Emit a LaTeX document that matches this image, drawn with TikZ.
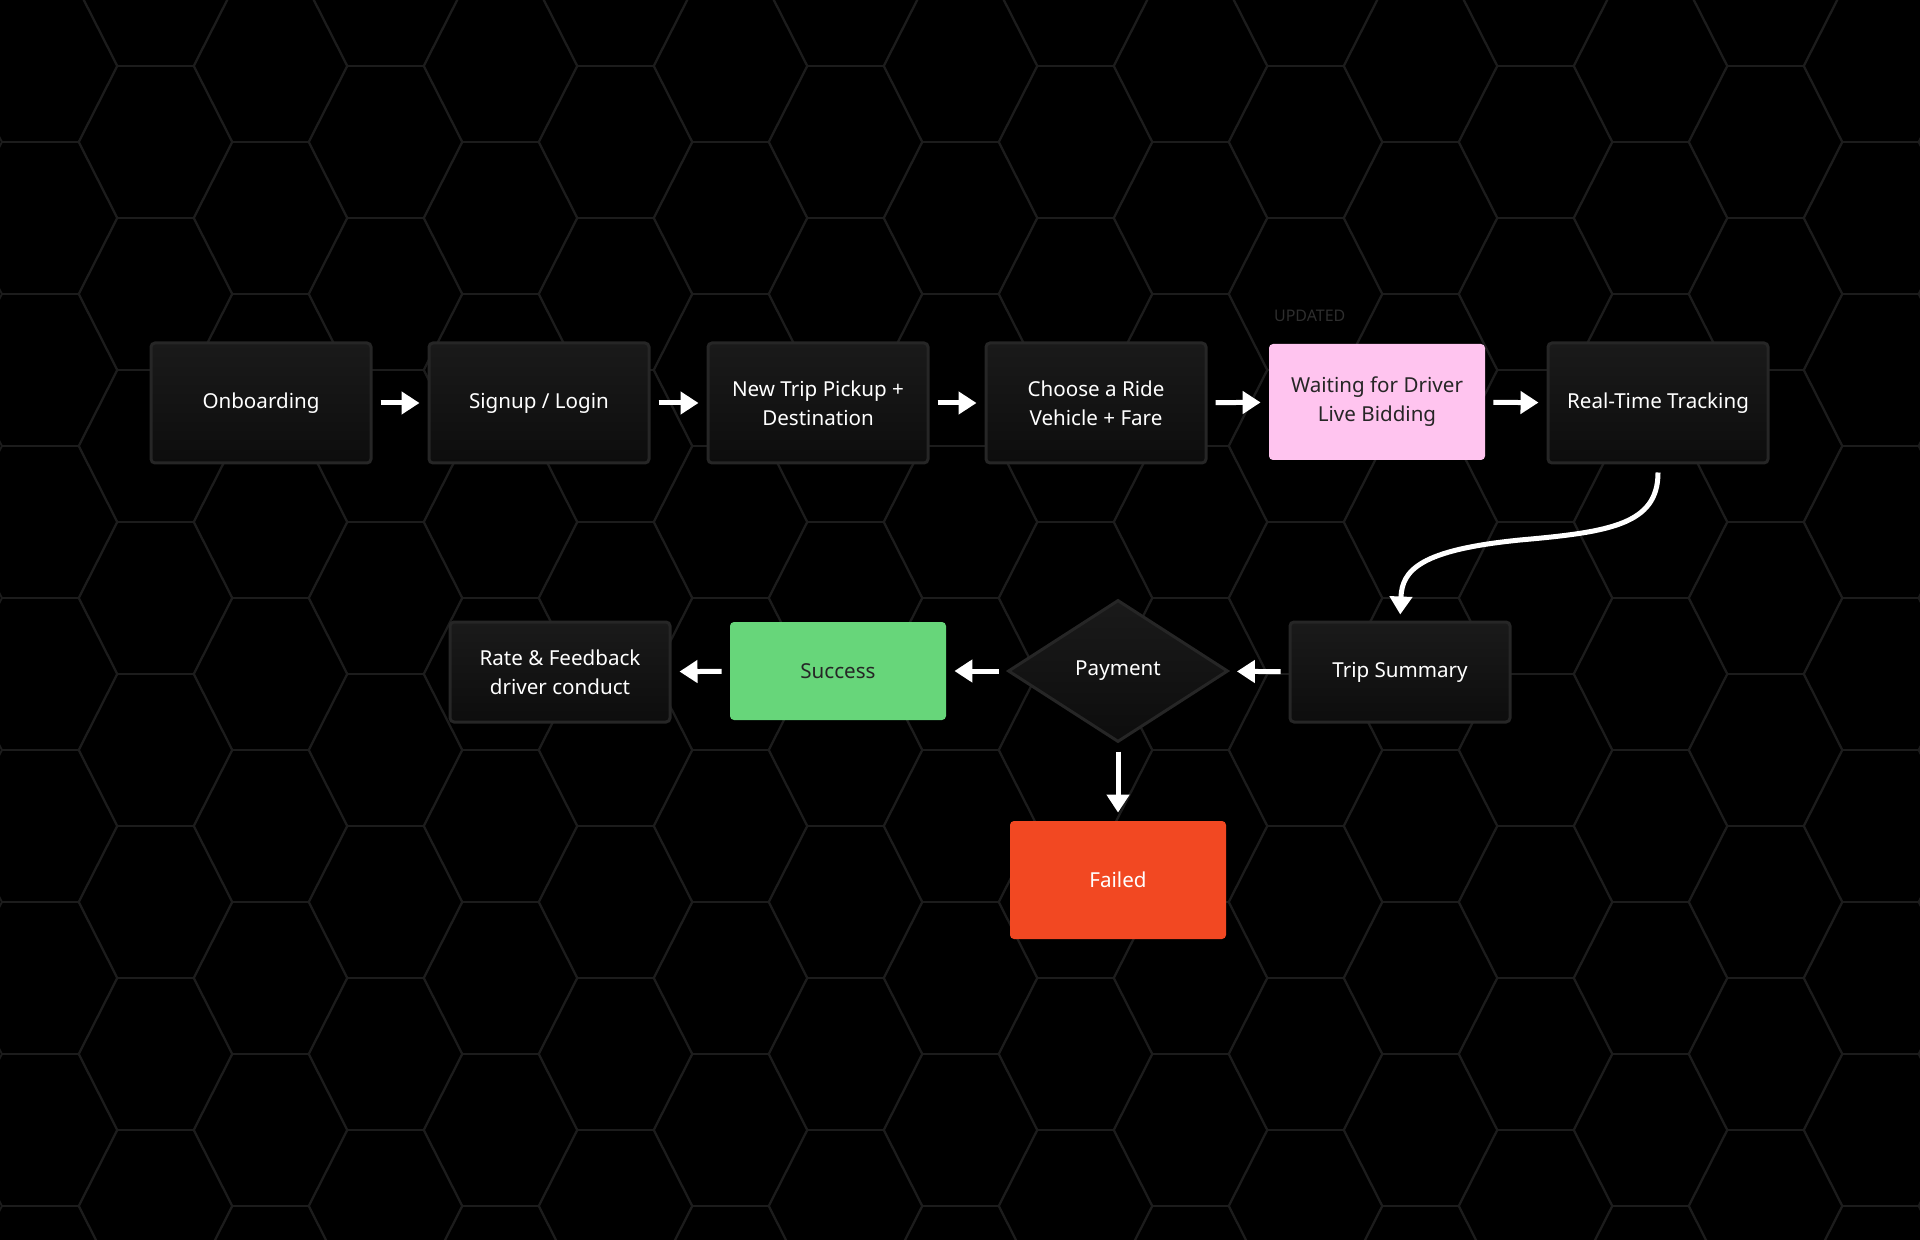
\documentclass[tikz,border=0pt]{standalone}
\usepackage{fontspec}
\setmainfont{Noto Sans}
\usetikzlibrary{shapes.geometric,arrows.meta}
\definecolor{bgc}{HTML}{000000}
\definecolor{hexc}{HTML}{1C1C1C}
\definecolor{boxtop}{HTML}{1A1A1A}
\definecolor{boxbot}{HTML}{0D0D0D}
\definecolor{boxline}{HTML}{262626}
\definecolor{pinkc}{HTML}{FFC4EF}
\definecolor{greenc}{HTML}{67D67A}
\definecolor{redc}{HTML}{F24822}
\definecolor{updc}{HTML}{2E2E2E}
\begin{document}
\begin{tikzpicture}[x=0.5pt,y=-0.5pt,
  txt/.style={font=\fontsize{10.3}{14.5}\selectfont, align=center, text=white},
  box/.style={txt, rectangle, rounded corners=2pt, minimum width=110pt, minimum height=60pt, top color=boxtop, bottom color=boxbot, draw=boxline, line width=1.5pt},
  flat/.style={txt, rectangle, rounded corners=2pt, minimum width=108pt, minimum height=58pt},
  arr/.style={draw=white, line width=2.5pt, -{Triangle[length=9pt,width=11pt]}, shorten <=4pt, shorten >=4pt}
]
\fill[bgc] (0,0) rectangle (1920,1240);
\useasboundingbox (0,0) rectangle (1920,1240);
% hex grid
\begin{scope}
\clip (0,0) rectangle (1920,1240);
\foreach \i in {-1,...,17}{
  \pgfmathsetmacro{\cx}{155.5+115*\i}
  \pgfmathsetmacro{\off}{mod(\i+2,2)==1 ? 76 : 0}
  \foreach \j in {-1,...,9}{
    \pgfmathsetmacro{\cy}{142+152*\j+\off}
    \draw[hexc, line width=0.9pt] (\cx-77,\cy) -- (\cx-38.5,\cy-76) -- (\cx+38.5,\cy-76) -- (\cx+77,\cy) -- (\cx+38.5,\cy+76) -- (\cx-38.5,\cy+76) -- cycle;
  }
}
\end{scope}
% top row
\node[box] (onb) at (261,403) {Onboarding};
\node[box] (sign) at (539,403) {Signup / Login};
\node[box] (trip) at (818,403) {New Trip Pickup +\\Destination};
\node[box] (ride) at (1096,403) {Choose a Ride\\Vehicle + Fare};
\node[flat, fill=pinkc, text=black!85] (wait) at (1377,402) {Waiting for Driver\\Live Bidding};
\node[box] (track) at (1658,403) {Real-Time Tracking};
\node[font=\bfseries\fontsize{8}{9}\selectfont, text=updc, anchor=west] (upd) at (1267,316) {UPDATED};
% second row
\node[box, minimum height=50pt] (rate) at (560,672) {Rate \& Feedback\\driver conduct};
\node[flat, fill=greenc, text=black!85, minimum height=49pt] (succ) at (838,671) {Success};
\node[txt, diamond, aspect=1.55, minimum width=110pt, minimum height=71pt, inner sep=0pt, top color=boxtop, bottom color=boxbot, draw=boxline, line width=1.5pt] (pay) at (1118,671) {Payment};
\node[box, minimum height=50pt] (sum) at (1400,672) {Trip Summary};
\node[flat, fill=redc, minimum height=59pt] (fail) at (1118,880) {Failed};
% arrows
\draw[arr] (onb) -- (sign);
\draw[arr] (sign) -- (trip);
\draw[arr] (trip) -- (ride);
\draw[arr] (ride) -- (wait);
\draw[arr] (wait) -- (track);
\draw[draw=white, line width=2.5pt, -{Triangle[length=9pt,width=11pt]}, shorten <=4pt, shorten >=3pt]
  (track.south) .. controls ++(0,60) and (1610,532) .. (1520,540) .. controls (1420,550) and (1402,570) .. (sum.north);
\draw[arr] (sum) -- (pay);
\draw[arr] (pay) -- (succ);
\draw[arr] (succ) -- (rate);
\draw[arr] (pay) -- (fail);
\end{tikzpicture}
\end{document}
